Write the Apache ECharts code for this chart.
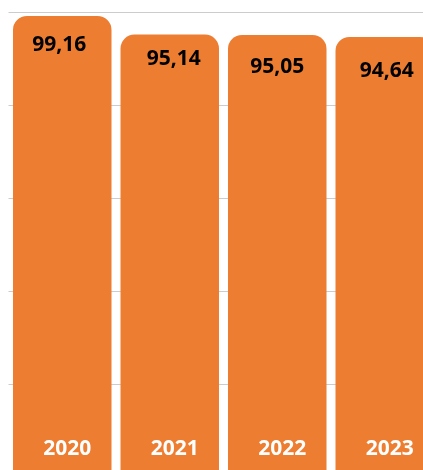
<!DOCTYPE html>
<html>
<head>
<meta charset="utf-8">
<script src="https://cdn.jsdelivr.net/npm/echarts@6/dist/echarts.min.js"></script>
<style>
  html, body { margin: 0; padding: 0; background: #ffffff; }
  #chart { width: 423px; height: 470px; }
</style>
</head>
<body>
<div id="chart"></div>
<script>
// Annual values per year
const years = ['2020', '2021', '2022', '2023'];
const values = [99.16, 95.14, 95.05, 94.64];
const valueTicks = [0, 20, 40, 60, 80, 100];

// Small per-bar nudges for the value labels [x, y]
const valueLabelOffsets = [[-3, 1], [4, -4], [0, 3], [2, 6]];

const fmt = v => v.toFixed(2).replace('.', ',');

const chart = echarts.init(document.getElementById('chart'), null, { renderer: 'canvas' });

chart.setOption({
  animation: false,
  grid: {
    left: 8.5, top: 12, right: -15.5, bottom: -7,
    containLabel: false,
    outerBoundsMode: 'none'
  },
  xAxis: {
    type: 'category',
    data: years.map(y => ({ value: y })),
    axisLine: { show: false },
    axisTick: { show: false },
    axisLabel: {
      inside: true,
      margin: 17,
      color: '#ffffff',
      fontFamily: 'Open Sans',
      fontWeight: 'bold',
      fontSize: 21,
      padding: [0, 0, 0, 10]
    },
    z: 10
  },
  yAxis: {
    type: 'value',
    min: valueTicks[0],
    max: valueTicks[valueTicks.length - 1],
    interval: 20,
    axisLabel: { show: false },
    axisLine: { show: false },
    axisTick: { show: false },
    splitLine: { lineStyle: { color: '#cccccc', width: 1 } }
  },
  series: [{
    type: 'bar',
    barWidth: 98.5,
    data: values.map((v, i) => ({
      value: v,
      label: { offset: valueLabelOffsets[i] }
    })),
    itemStyle: { color: '#ED7D31', borderRadius: [14, 14, 0, 0] },
    label: {
      show: true,
      position: 'insideTop',
      distance: 18,
      color: '#000000',
      fontFamily: 'Open Sans',
      fontWeight: 'bold',
      fontSize: 21,
      formatter: p => fmt(p.value)
    }
  }]
});
</script>
</body>
</html>
